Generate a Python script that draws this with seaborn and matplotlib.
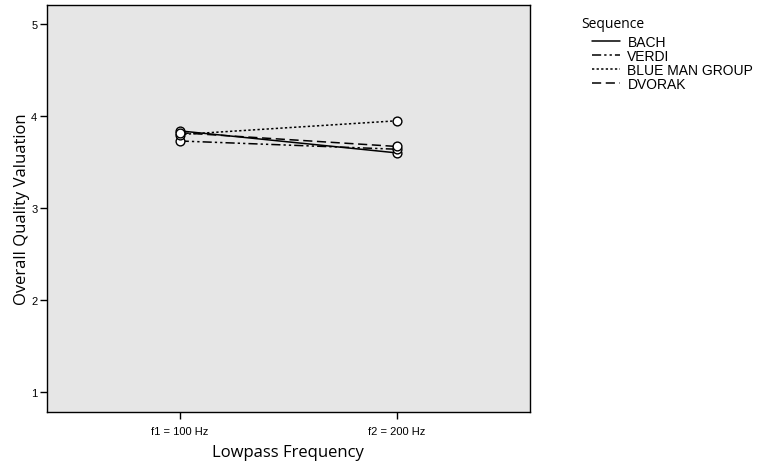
import matplotlib
matplotlib.use("Agg")
import matplotlib.pyplot as plt
import seaborn as sns
import pandas as pd

# data
frequencies = ["f1 = 100 Hz", "f2 = 200 Hz"]
sequences = ["BACH", "VERDI", "BLUE MAN GROUP", "DVORAK"]
bach = [3.84, 3.60]
verdi = [3.73, 3.64]
blue_man_group = [3.80, 3.95]
dvorak = [3.82, 3.67]

values = {"BACH": bach, "VERDI": verdi, "BLUE MAN GROUP": blue_man_group, "DVORAK": dvorak}
rows = []
for s in sequences:
    for i, f in enumerate(frequencies):
        rows.append({"Sequence": s, "pos": i, "Valuation": values[s][i]})
mydf = pd.DataFrame(rows)

sns.set_style("white")
plt.rcParams["font.family"] = ["Liberation Sans", "DejaVu Sans"]
plt.rcParams["text.color"] = "black"
plt.rcParams["axes.labelcolor"] = "black"
plt.rcParams["xtick.color"] = "black"
plt.rcParams["ytick.color"] = "black"

dash_styles = {
    "BACH": "",
    "VERDI": (6, 2, 1.5, 2, 1.5, 2),
    "BLUE MAN GROUP": (1.5, 1.5),
    "DVORAK": (6, 3),
}

fig = plt.figure(figsize=(7.59, 4.64), dpi=100)
ax = fig.add_axes([0.062, 0.110, 0.636, 0.877])
ax.set_facecolor("#e6e6e6")

sns.lineplot(data=mydf, x="pos", y="Valuation", style="Sequence", style_order=sequences,
             dashes=dash_styles, markers=False, color="black", linewidth=1.1, ax=ax,
             legend=False)
sns.scatterplot(data=mydf, x="pos", y="Valuation", ax=ax, marker="o", s=40,
                facecolor="white", edgecolor="black", linewidth=1.0, zorder=5, legend=False)

ax.set_xlim(-0.61, 1.61)
ax.set_ylim(0.78, 5.21)
ax.set_xticks([0, 1])
ax.set_xticklabels(frequencies, fontsize=8)
ax.set_yticks([1, 2, 3, 4, 5])
ax.set_yticklabels(["1", "2", "3", "4", "5"], fontsize=8)
ax.tick_params(axis="both", direction="out", length=5, width=1, color="black", pad=2,
               bottom=True, left=True)
ax.tick_params(axis="x", pad=5)
for sp in ax.spines.values():
    sp.set_color("black")
    sp.set_linewidth(1.0)

ax.set_xlabel("Lowpass Frequency", fontsize=12, family=["Open Sans", "DejaVu Sans"], labelpad=6)
ax.set_ylabel("Overall Quality Valuation", fontsize=12, family=["Open Sans", "DejaVu Sans"], labelpad=1)

# legend
fig.text(581 / 759, 1 - 24 / 464, "Sequence", fontsize=10, family=["Open Sans", "DejaVu Sans"],
         ha="left", va="center")
handles = [plt.Line2D([], [], color="black", linewidth=1.1,
                      linestyle="-" if dash_styles[s] == "" else (0, dash_styles[s]))
           for s in sequences]
leg = fig.legend(handles, sequences, loc="upper left", bbox_to_anchor=(592 / 759, 1 - 36 / 464),
                 frameon=False, fontsize=10, handlelength=2.0, borderpad=0,
                 handletextpad=0.55, labelspacing=0.0, borderaxespad=0)

fig.savefig("out.png", dpi=100)
